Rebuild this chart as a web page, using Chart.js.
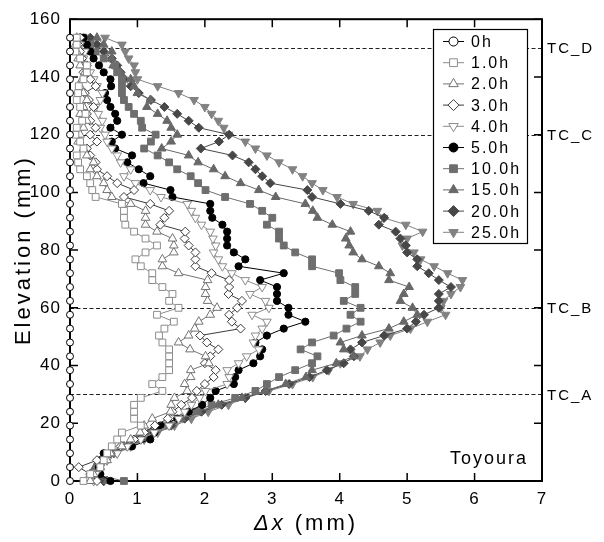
<!DOCTYPE html>
<html>
<head>
<meta charset="utf-8">
<script src="https://cdn.jsdelivr.net/npm/chart.js@4.4.1/dist/chart.umd.min.js"></script>
<style>
  body { margin: 0; background: #fff; }
  #wrap { width: 604px; height: 542px; }
</style>
</head>
<body>
<div id="wrap"><canvas id="perfil"></canvas></div>
<script>
// elevations of the measuring levels (mm)
const elevacao = [0, 2.4, 4.8, 7.2, 9.6, 12, 14.4, 16.8, 19.2, 21.6,
  24, 26.4, 28.8, 31.2, 33.6, 36, 38.4, 40.8, 43.2, 45.6,
  48, 50.4, 52.8, 55.2, 57.6, 60, 62.4, 64.8, 67.2, 69.6,
  72, 74.4, 76.8, 79.2, 81.6, 84, 86.4, 88.8, 91.2, 93.6,
  96, 98.4, 100.8, 103.2, 105.6, 108, 110.4, 112.8, 115.2, 117.6,
  120, 122.4, 124.8, 127.2, 129.6, 132, 134.4, 136.8, 139.2, 141.6,
  144, 146.4, 148.8, 151.2, 153.6];
const elevacao0h = [0, 4.8, 9.6, 14.4, 19.2, 24, 28.8, 33.6, 38.4, 43.2,
  48, 52.8, 57.6, 62.4, 67.2, 72, 76.8, 81.6, 86.4, 91.2,
  96, 100.8, 105.6, 110.4, 115.2, 120, 124.8, 129.6, 134.4, 139.2,
  144, 148.8, 153.6];

// horizontal displacement Δx (mm) at each level
const dx0h = [0, 0, 0, 0, 0, 0, 0, 0, 0, 0, 0, 0, 0, 0, 0, 0, 0,
  0, 0, 0, 0, 0, 0, 0, 0, 0, 0, 0, 0, 0, 0, 0, 0];
const dx1h = [0.2, 0.3, 0.45, 0.5, 0.55, 0.62, 0.7, 0.77, 1.05, 0.95,
  0.95, 0.95, 1.05, 1.37, 1.22, 1.37, 1.47, 1.47, 1.47, 1.47,
  1.37, 1.32, 1.4, 1.54, 1.29, 1.61, 1.47, 1.52, 1.37, 1.22,
  1.22, 1.05, 0.97, 1.12, 1.29, 1.12, 0.95, 0.82, 0.8, 0.8,
  0.77, 0.38, 0.33, 0.3, 0.25, 0.15, 0.12, 0.1, 0.2, 0.15,
  0.08, 0.1, 0.18, 0.23, 0.15, 0.1, 0.12, 0.13, 0.2, 0.25,
  0.25, 0.15, 0.08, 0.1, 0.1];
const dx2h = [0.3, 0.35, 0.45, 0.55, 0.6, 0.77, 0.9, 1.04, 1.1, 1.22,
  1.49, 1.5, 1.55, 1.74, 1.7, 1.79, 1.79, 2.06, 2.01, 1.78,
  1.61, 1.76, 1.85, 1.91, 2.08, 2.18, 2.04, 2.01, 2.01, 2.04,
  1.61, 1.37, 1.37, 1.54, 1.54, 1.52, 1.29, 1.12, 1.12, 1.12,
  0.9, 0.62, 0.55, 0.5, 0.4, 0.3, 0.35, 0.25, 0.2, 0.12,
  0.15, 0.2, 0.25, 0.15, 0.2, 0.25, 0.2, 0.15, 0.18, 0.22,
  0.15, 0.12, 0.1, 0.08, 0.1];
const dx3h = [0.4, 0.3, 0.13, 0.4, 0.6, 0.75, 0.95, 1.1, 1.26, 1.45,
  1.52, 1.65, 1.81, 1.88, 2.0, 2.13, 2.16, 2.0, 2.08, 2.2,
  2.03, 1.93, 2.53, 2.4, 2.36, 2.48, 2.55, 2.35, 2.36, 2.36,
  2.1, 1.86, 1.86, 1.86, 1.76, 1.7, 1.71, 1.34, 1.4, 1.47,
  1.19, 0.8, 0.95, 0.7, 0.55, 0.4, 0.38, 0.3, 0.25, 0.4,
  0.3, 0.38, 0.3, 0.25, 0.35, 0.28, 0.22, 0.38, 0.3, 0.2,
  0.25, 0.18, 0.15, 0.12, 0.15];
const dx4h = [0.35, 0.38, 0.45, 0.55, 0.7, 0.85, 1.05, 1.25, 1.47, 1.61,
  1.7, 1.8, 1.92, 2.01, 2.33, 2.36, 2.33, 2.5, 2.62, 2.8,
  2.72, 2.75, 2.85, 2.92, 2.7, 2.95, 2.9, 2.67, 2.85, 2.6,
  2.4, 2.26, 2.2, 2.13, 2.16, 2.12, 2.08, 1.95, 1.86, 1.8,
  1.74, 1.35, 1.19, 0.97, 0.8, 0.9, 0.75, 0.7, 0.62, 0.55,
  0.52, 0.45, 0.48, 0.42, 0.38, 0.45, 0.48, 0.4, 0.35, 0.3,
  0.25, 0.2, 0.22, 0.15, 0.12];
const dx5h = [0.6, 0.45, 0.43, 0.45, 0.5, 0.92, 1.19, 1.25, 1.34, 1.59,
  1.76, 1.96, 2.08, 2.16, 2.43, 2.45, 2.5, 2.72, 2.82, 2.85,
  2.75, 2.92, 3.17, 3.49, 3.24, 3.24, 3.07, 3.07, 3.07, 2.82,
  3.17, 2.5, 2.6, 2.43, 2.33, 2.33, 2.33, 2.26, 2.11, 2.08,
  2.08, 1.52, 1.49, 1.09, 1.19, 1.02, 0.85, 0.92, 0.67, 0.62,
  0.77, 0.6, 0.7, 0.67, 0.6, 0.55, 0.52, 0.61, 0.6, 0.5,
  0.43, 0.35, 0.3, 0.25, 0.2];
const dx10h = [0.8, 0.35, 0.4, 0.5, 0.62, 0.8, 1.0, 1.2, 1.4, 1.6,
  1.85, 2.1, 2.45, 2.75, 2.92, 3.1, 3.34, 3.59, 3.67, 3.42,
  3.59, 3.91, 4.1, 4.31, 4.16, 4.31, 4.06, 4.23, 4.23, 4.01,
  3.99, 3.59, 3.59, 3.34, 3.17, 3.1, 3.1, 2.92, 3.0, 2.85,
  2.67, 2.3, 2.01, 1.9, 1.79, 1.59, 1.47, 1.3, 1.1, 1.2,
  1.27, 1.07, 1.05, 0.95, 0.87, 0.8, 0.77, 0.77, 0.77, 0.7,
  0.67, 0.5, 0.38, 0.3, 0.2];
const dx15h = [0.55, 0.3, 0.37, 0.5, 0.62, 0.8, 1.0, 1.2, 1.45, 1.65,
  1.9, 2.2, 2.55, 2.9, 3.2, 3.5, 3.59, 3.95, 4.21, 4.06,
  4.01, 4.33, 4.73, 4.95, 5.15, 5.08, 4.9, 4.95, 5.03, 4.73,
  4.75, 4.58, 4.33, 4.2, 4.14, 4.09, 4.16, 3.89, 3.67, 3.6,
  3.49, 3.05, 2.8, 2.53, 2.3, 2.13, 1.9, 1.76, 1.36, 1.5,
  1.59, 1.5, 1.44, 1.3, 1.14, 1.19, 1.0, 0.95, 0.9, 0.75,
  0.64, 0.62, 0.62, 0.5, 0.4];
const dx20h = [0.5, 0.35, 0.4, 0.5, 0.65, 0.85, 1.05, 1.25, 1.5, 1.7,
  1.95, 2.25, 2.6, 2.9, 3.25, 3.55, 3.81, 4.06, 4.21, 4.16,
  4.33, 4.66, 5.0, 5.13, 5.25, 5.47, 5.47, 5.47, 5.65, 5.47,
  5.32, 5.15, 5.15, 5.0, 4.98, 4.9, 4.83, 4.58, 4.66, 4.43,
  4.01, 3.59, 3.52, 2.97, 2.85, 2.75, 2.65, 2.41, 1.94, 2.21,
  2.36, 1.91, 1.76, 1.59, 1.4, 1.2, 1.02, 0.9, 0.8, 0.75,
  0.7, 0.62, 0.5, 0.4, 0.3];
const dx25h = [0.5, 0.4, 0.45, 0.55, 0.7, 0.9, 1.1, 1.3, 1.55, 1.8,
  2.05, 2.35, 2.6, 2.95, 3.3, 3.6, 3.84, 4.01, 4.3, 4.41,
  4.6, 4.75, 5.05, 5.3, 5.57, 5.5, 5.54, 5.65, 5.79, 5.82,
  5.6, 5.4, 5.2, 5.1, 4.93, 5.0, 5.23, 4.98, 4.65, 4.56,
  4.2, 3.96, 3.75, 3.59, 3.45, 3.3, 3.1, 2.92, 2.75, 2.6,
  2.35, 2.28, 2.2, 2.1, 2.0, 1.84, 1.61, 1.3, 1.0, 0.97,
  0.95, 0.87, 0.82, 0.77, 0.52];

const rotulos = ["0h", "1.0h", "2.0h", "3.0h", "4.0h", "5.0h", "10.0h", "15.0h", "20.0h", "25.0h"];
const ticksX = [0, 1, 2, 3, 4, 5, 6, 7];
const ticksY = [0, 20, 40, 60, 80, 100, 120, 140, 160];
const niveisTC = [30, 60, 120, 150];
const nomesTC = ["TC_A", "TC_B", "TC_C", "TC_D"];

const series = [
  [elevacao0h, dx0h], [elevacao, dx1h], [elevacao, dx2h], [elevacao, dx3h], [elevacao, dx4h],
  [elevacao, dx5h], [elevacao, dx10h], [elevacao, dx15h], [elevacao, dx20h], [elevacao, dx25h],
];

// marker look of each series
const estilos = [
  { cor: "#000000", fundo: "#ffffff", forma: "circle", raio: 3.5, rot: 0 },
  { cor: "#8c8c8c", fundo: "#ffffff", forma: "rect", raio: 4.8, rot: 0 },
  { cor: "#737373", fundo: "#ffffff", forma: "triangle", raio: 5, rot: 0 },
  { cor: "#3c3c3c", fundo: "#ffffff", forma: "rectRot", raio: 4.5, rot: 0 },
  { cor: "#8c8c8c", fundo: "#ffffff", forma: "triangle", raio: 5, rot: 180 },
  { cor: "#000000", fundo: "#000000", forma: "circle", raio: 3.6, rot: 0 },
  { cor: "#6e6e6e", fundo: "#6e6e6e", forma: "rect", raio: 4.8, rot: 0 },
  { cor: "#686868", fundo: "#686868", forma: "triangle", raio: 5, rot: 0 },
  { cor: "#474747", fundo: "#474747", forma: "rectRot", raio: 4.5, rot: 0 },
  { cor: "#828282", fundo: "#828282", forma: "triangle", raio: 5, rot: 180 },
];

const fonte = "'Liberation Sans', Arial, sans-serif";

const datasets = series.map(([ys, xs], i) => ({
  label: rotulos[i],
  data: xs.map((x, k) => ({ x: x, y: ys[k] })),
  showLine: true,
  borderColor: estilos[i].cor,
  borderWidth: 1,
  pointStyle: estilos[i].forma,
  pointRotation: estilos[i].rot,
  pointRadius: estilos[i].raio,
  pointBackgroundColor: estilos[i].fundo,
  pointBorderColor: estilos[i].cor,
  pointBorderWidth: 1,
  clip: 8,
}));

function marcador(ctx, e, x, y, r) {
  ctx.beginPath();
  if (e.forma === "circle") {
    ctx.arc(x, y, r, 0, Math.PI * 2);
  } else if (e.forma === "rect") {
    const s = r * Math.SQRT1_2;
    ctx.rect(x - s, y - s, 2 * s, 2 * s);
  } else if (e.forma === "rectRot") {
    ctx.moveTo(x - r, y); ctx.lineTo(x, y - r); ctx.lineTo(x + r, y); ctx.lineTo(x, y + r);
    ctx.closePath();
  } else {
    const d = e.rot ? -1 : 1;
    ctx.moveTo(x, y - d * r);
    ctx.lineTo(x + r * 0.866, y + d * r * 0.5);
    ctx.lineTo(x - r * 0.866, y + d * r * 0.5);
    ctx.closePath();
  }
  ctx.fillStyle = e.fundo;
  ctx.fill();
  ctx.strokeStyle = e.cor;
  ctx.lineWidth = 1;
  ctx.stroke();
}

const moldura = {
  id: "moldura",
  beforeDraw(chart) {
    chart.ctx.letterSpacing = "1px";
  },
  beforeDatasetsDraw(chart) {
    const { ctx, chartArea: a, scales } = chart;
    ctx.save();
    // thermocouple levels
    ctx.strokeStyle = "#222";
    ctx.lineWidth = 1;
    ctx.setLineDash([4, 2.5]);
    niveisTC.forEach((v) => {
      const y = Math.round(scales.y.getPixelForValue(v)) + 0.5;
      ctx.beginPath();
      ctx.moveTo(a.left, y);
      ctx.lineTo(a.right, y);
      ctx.stroke();
    });
    ctx.setLineDash([]);
    // frame and inward ticks
    ctx.strokeStyle = "#000";
    ctx.lineWidth = 2;
    ctx.strokeRect(a.left, a.top, a.right - a.left, a.bottom - a.top);
    ctx.lineWidth = 1.5;
    ctx.beginPath();
    ticksX.forEach((v) => {
      const x = scales.x.getPixelForValue(v);
      ctx.moveTo(x, a.bottom); ctx.lineTo(x, a.bottom - 8);
      ctx.moveTo(x, a.top); ctx.lineTo(x, a.top + 8);
    });
    ticksY.forEach((v) => {
      const y = scales.y.getPixelForValue(v);
      ctx.moveTo(a.left, y); ctx.lineTo(a.left + 8, y);
      ctx.moveTo(a.right, y); ctx.lineTo(a.right - 8, y);
    });
    ctx.stroke();
    ctx.restore();
  },
  afterDatasetsDraw(chart) {
    const { ctx, chartArea: a, scales } = chart;
    ctx.save();
    ctx.fillStyle = "#000";
    ctx.letterSpacing = "2px";

    // TC labels outside the right axis
    ctx.font = "15px " + fonte;
    ctx.textAlign = "left";
    ctx.textBaseline = "middle";
    niveisTC.forEach((v, i) => {
      ctx.fillText(nomesTC[i], a.right + 5, scales.y.getPixelForValue(v) + 1);
    });

    // sand name
    ctx.font = "18px " + fonte;
    ctx.textAlign = "right";
    ctx.textBaseline = "alphabetic";
    ctx.fillText("Toyoura", a.right - 14, 464);

    // axis titles
    ctx.letterSpacing = "3px";
    ctx.textAlign = "left";
    const parte1 = "\u0394x";
    ctx.font = "italic 22px " + fonte;
    const w1 = ctx.measureText(parte1).width;
    ctx.font = "22px " + fonte;
    const w2 = ctx.measureText(" (mm)").width;
    const x0 = (a.left + a.right) / 2 - (w1 + w2) / 2;
    ctx.font = "italic 22px " + fonte;
    ctx.fillText(parte1, x0, 530);
    ctx.font = "22px " + fonte;
    ctx.fillText(" (mm)", x0 + w1, 530);

    ctx.save();
    ctx.translate(24, (a.top + a.bottom) / 2);
    ctx.rotate(-Math.PI / 2);
    ctx.textAlign = "center";
    ctx.textBaseline = "middle";
    ctx.fillText("Elevation (mm)", 0, 0);
    ctx.restore();

    // legend box
    ctx.letterSpacing = "2px";
    const lx = 433.5, ly = 29.5, lw = 94, lh = 214;
    ctx.fillStyle = "#fff";
    ctx.fillRect(lx, ly, lw, lh);
    ctx.strokeStyle = "#000";
    ctx.lineWidth = 1.2;
    ctx.strokeRect(lx, ly, lw, lh);
    ctx.font = "16px " + fonte;
    ctx.textBaseline = "middle";
    ctx.textAlign = "left";
    rotulos.forEach((r, i) => {
      const y = 41.5 + i * 21.2;
      const e = estilos[i];
      ctx.strokeStyle = e.cor;
      ctx.lineWidth = 1;
      ctx.beginPath();
      ctx.moveTo(443, y); ctx.lineTo(464, y);
      ctx.stroke();
      marcador(ctx, e, 453.5, y, e.forma === "circle" ? 4.5 : 5.5);
      ctx.fillStyle = "#000";
      ctx.fillText(r, 471, y + 1);
    });
    ctx.restore();
  },
};

new Chart(document.getElementById("perfil"), {
  type: "scatter",
  data: { datasets: datasets },
  options: {
    responsive: true,
    maintainAspectRatio: false,
    animation: false,
    layout: {
      padding: { left: 0, top: 15, right: 62, bottom: 0 },
    },
    scales: {
      x: {
        type: "linear",
        min: 0,
        max: 7,
        afterFit: (s) => { s.height = 61; },
        afterBuildTicks: (s) => { s.ticks = ticksX.map((v) => ({ value: v })); },
        grid: { display: false, drawTicks: false },
        border: { display: false },
        ticks: { color: "#000", padding: 8, font: { size: 17, family: fonte } },
      },
      y: {
        type: "linear",
        min: 0,
        max: 160,
        afterFit: (s) => { s.width = 70; },
        afterBuildTicks: (s) => { s.ticks = ticksY.map((v) => ({ value: v })); },
        grid: { display: false, drawTicks: false },
        border: { display: false },
        ticks: { color: "#000", padding: 9, font: { size: 17, family: fonte } },
      },
    },
    plugins: {
      legend: { display: false },
      tooltip: { enabled: false },
    },
  },
  plugins: [moldura],
});
</script>
</body>
</html>
